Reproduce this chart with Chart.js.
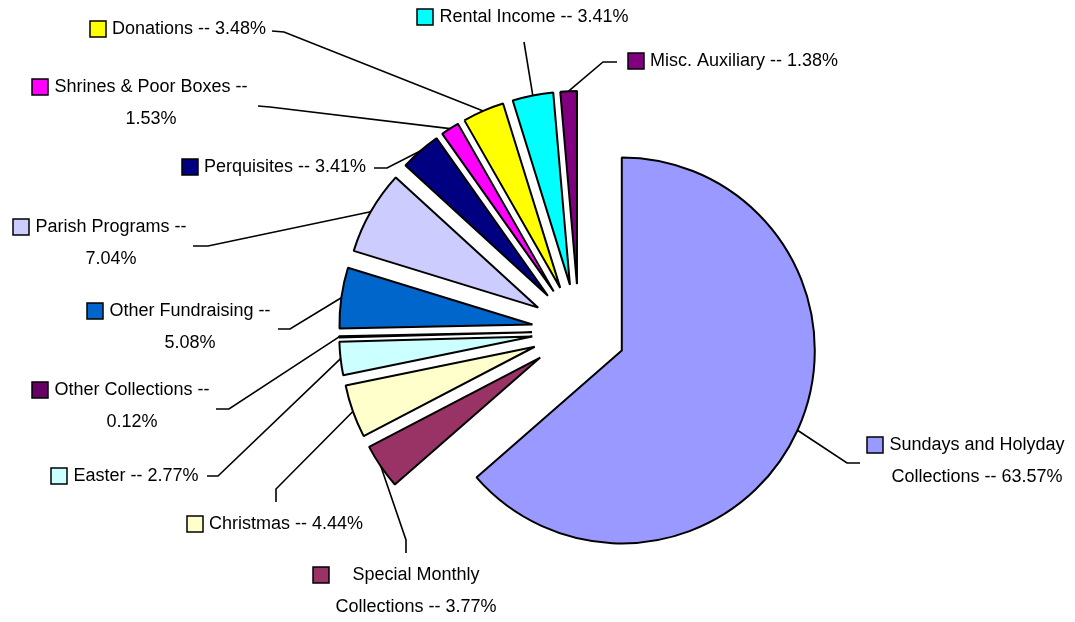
<!DOCTYPE html>
<html><head><meta charset="utf-8">
<script src="https://cdn.jsdelivr.net/npm/chart.js@4.4.1/dist/chart.umd.min.js"></script>
<style>html,body{margin:0;padding:0;background:#fff;} #wrap{width:1075px;height:622px;}</style>
</head><body><div id="wrap"><canvas id="c" width="1075" height="622"></canvas></div>
<script>
const categories = ["Sundays and Holyday Collections","Special Monthly Collections","Christmas","Easter","Other Collections","Other Fundraising","Parish Programs","Perquisites","Shrines & Poor Boxes","Donations","Rental Income","Misc. Auxiliary"];
const percentages = [63.57, 3.77, 4.44, 2.77, 0.12, 5.08, 7.04, 3.41, 1.53, 3.48, 3.41, 1.38];
const sliceColors = ["#9999FF","#993366","#FFFFCC","#CCFFFF","#660066","#0066CC","#CCCCFF","#000080","#FF00FF","#FFFF00","#00FFFF","#800080"];

// label placement (layout only): text centre x, first line centre y, words on first line, leader elbow/end
const labelLayout = [
  {cx: 977, cy: 445, words: 3, elbow: [847, 463], end: [860, 463]},
  {cx: 416, cy: 575, words: 2, elbow: [406, 540], end: [406, 553]},
  {cx: 286, cy: 524, words: 0, elbow: [276, 489], end: [276, 502]},
  {cx: 136, cy: 476, words: 0, elbow: [218, 476], end: [207, 476]},
  {cx: 132, cy: 390, words: 3, elbow: [229, 409], end: [216, 409]},
  {cx: 190, cy: 311, words: 3, elbow: [290, 329], end: [278, 329]},
  {cx: 111, cy: 227, words: 3, elbow: [208, 246], end: [193, 246]},
  {cx: 285, cy: 167, words: 0, elbow: [387, 168], end: [374, 168]},
  {cx: 151, cy: 87,  words: 5, elbow: [270, 107], end: [258, 106]},
  {cx: 189, cy: 29,  words: 0, elbow: [284, 32],  end: [272, 31]},
  {cx: 534, cy: 17,  words: 0, elbow: null,       end: [524, 42]},
  {cx: 744, cy: 61,  words: 0, elbow: [603, 62],  end: [617, 62]}
];

const PIE_R = 193, EXPLODE = 47;

// explode every slice outward along its mid-angle
const explode = {
  id: 'explode',
  afterDatasetsUpdate(chart) {
    chart.getDatasetMeta(0).data.forEach(arc => {
      const mid = (arc.startAngle + arc.endAngle) / 2;
      arc.x += Math.cos(mid) * EXPLODE;
      arc.y += Math.sin(mid) * EXPLODE;
    });
  }
};

const leaderLabels = {
  id: 'leaderLabels',
  afterDatasetsDraw(chart) {
    const ctx = chart.ctx;
    const meta = chart.getDatasetMeta(0);
    ctx.save();
    ctx.font = '18px "Liberation Sans", Arial, sans-serif';
    ctx.textBaseline = 'middle';
    ctx.textAlign = 'center';
    meta.data.forEach((arc, i) => {
      const L = labelLayout[i];
      const p = arc.getProps(['x', 'y', 'startAngle', 'endAngle', 'outerRadius'], true);
      const mid = (p.startAngle + p.endAngle) / 2;
      const sx = p.x + Math.cos(mid) * p.outerRadius, sy = p.y + Math.sin(mid) * p.outerRadius;
      ctx.beginPath();
      ctx.moveTo(sx, sy);
      if (L.elbow) ctx.lineTo(L.elbow[0], L.elbow[1]);
      ctx.lineTo(L.end[0], L.end[1]);
      ctx.strokeStyle = '#000';
      ctx.lineWidth = 1.6;
      ctx.stroke();
      const words = (categories[i] + ' -- ' + percentages[i].toFixed(2) + '%').split(' ');
      const lines = L.words ? [words.slice(0, L.words).join(' '), words.slice(L.words).join(' ')] : [words.join(' ')];
      const w = Math.max(...lines.map(t => ctx.measureText(t).width));
      ctx.fillStyle = '#000';
      lines.forEach((t, k) => ctx.fillText(t, L.cx, L.cy + k * 32));
      const sqx = Math.round(L.cx - w / 2 - 6 - 16);
      ctx.fillStyle = sliceColors[i];
      ctx.fillRect(sqx, Math.round(L.cy - 8), 16, 16);
      ctx.strokeStyle = '#000';
      ctx.lineWidth = 1.5;
      ctx.strokeRect(sqx, Math.round(L.cy - 8), 16, 16);
    });
    ctx.restore();
  }
};

new Chart(document.getElementById('c'), {
  type: 'pie',
  data: {
    labels: categories,
    datasets: [{
      data: percentages,
      backgroundColor: sliceColors,
      borderColor: '#000',
      borderWidth: 2,
      radius: PIE_R
    }]
  },
  options: {
    responsive: false,
    animation: false,
    devicePixelRatio: 1,
    radius: PIE_R,
    events: [],
    layout: {padding: {left: 83, right: 0, top: 40, bottom: 0}},
    plugins: {legend: {display: false}, tooltip: {enabled: false}}
  },
  plugins: [explode, leaderLabels]
});
</script>
</body></html>
